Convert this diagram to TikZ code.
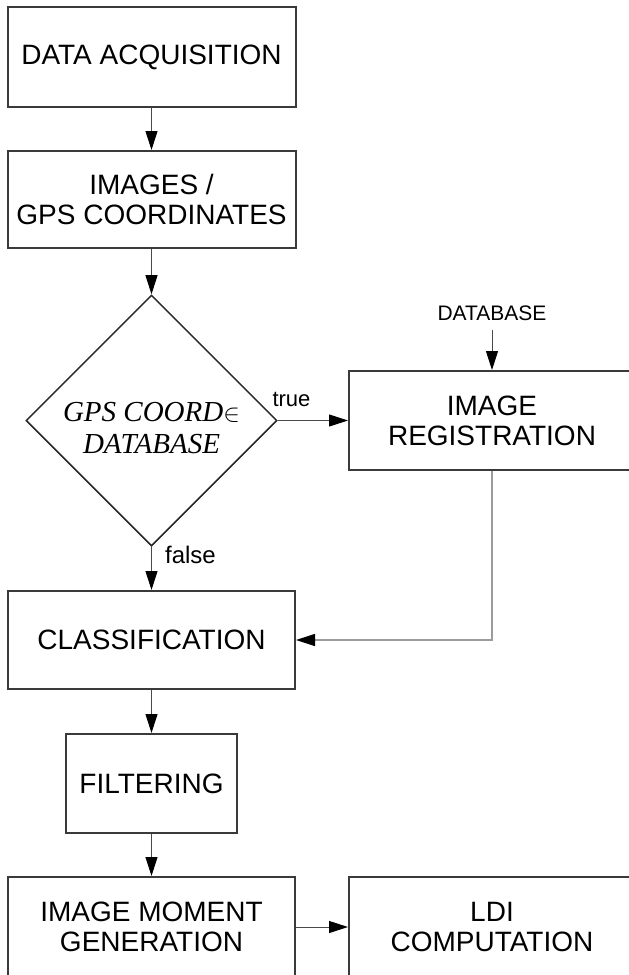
\documentclass[tikz,border=0pt]{standalone}
\usepackage{fontspec}
\setmainfont{Liberation Sans}
\newfontfamily\condfont{Liberation Serif}
\usetikzlibrary{shapes.geometric,arrows.meta}

\definecolor{boxline}{HTML}{3A3A3A}
\definecolor{wire}{HTML}{4A4A4A}
\definecolor{wirelight}{HTML}{9C9C9C}

\begin{document}
\begin{tikzpicture}[x=1pt,y=-1pt,
  box/.style={draw=boxline,line width=2pt,fill=white,inner sep=0pt,align=center,
              font=\fontsize{28}{30}\selectfont},
  flow/.style={draw=wire,line width=1pt,
               -{Triangle[length=19pt,width=12pt,color=black]}},
  flowlight/.style={flow,draw=wirelight,line width=1.2pt},
  tag/.style={inner sep=0pt,font=\fontsize{22}{22}\selectfont}]

% page frame
\path[use as bounding box,fill=white] (0,0) rectangle (629,975);

% left column
\node[box,minimum width=288pt,minimum height=100pt] (acq) at (151.5,57) {DATA ACQUISITION};
\node[box,minimum width=288pt,minimum height=97pt] (img) at (151.5,199.5) {IMAGES /\\GPS COORDINATES};

\node[diamond,aspect=1,draw=black!85,line width=1.5pt,inner sep=0pt,
      minimum width=251pt,minimum height=251pt] (dec) at (151.5,420.5) {};
\node[inner sep=0pt,align=center,font=\condfont\itshape\fontsize{29}{32}\selectfont]
  (dectxt) at (151.5,428.5) {GPS COORD$\in$\\DATABASE};

\node[box,minimum width=287pt,minimum height=98pt] (cls) at (151.5,640) {CLASSIFICATION};
\node[box,minimum width=171pt,minimum height=99pt] (filt) at (151.5,783.5) {FILTERING};
\node[box,minimum width=287pt,minimum height=100pt] (mom) at (151.5,927) {IMAGE MOMENT\\GENERATION};

% right column
\node[tag,font=\fontsize{21}{21}\selectfont] (db) at (492,313) {DATABASE};
\node[box,minimum width=286pt,minimum height=99pt] (reg) at (492,420.5) {IMAGE\\REGISTRATION};
\node[box,minimum width=286pt,minimum height=100pt] (ldi) at (492,927) {LDI\\COMPUTATION};

% connectors
\draw[flow] (acq) -- (img);
\draw[flow] (img) -- (dec);
\draw[flow] (dec) -- (reg);
\node[tag] (truetag) at (291.5,399) {true};
\draw[flow,shorten <=9pt] (db) -- (reg);
\draw[flow] (dec) -- (cls);
\node[tag,font=\fontsize{24}{24}\selectfont] (falsetag) at (190.5,555) {false};
\draw[flowlight] (reg) |- (cls);
\draw[flow] (cls) -- (filt);
\draw[flow] (filt) -- (mom);
\draw[flow] (mom) -- (ldi);
\end{tikzpicture}
\end{document}
